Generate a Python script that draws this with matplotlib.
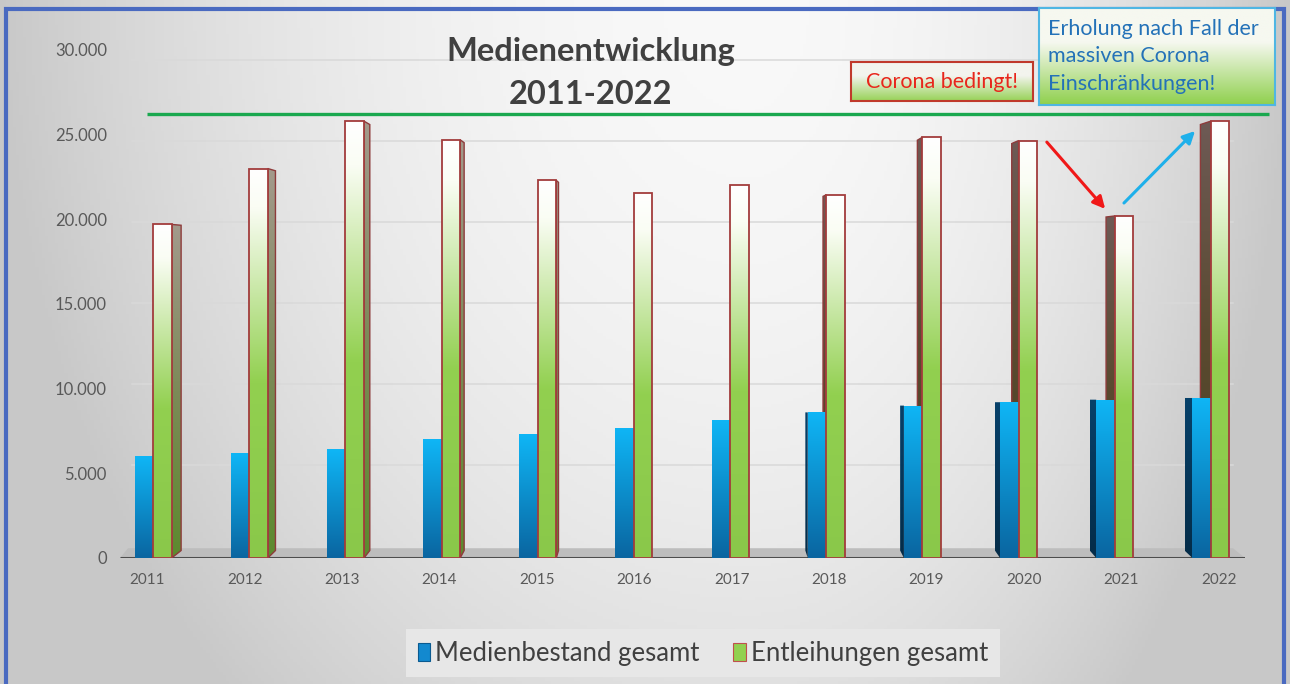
import numpy as np
import matplotlib
matplotlib.use("Agg")
import matplotlib.pyplot as plt
from matplotlib.patches import Polygon, Patch, FancyArrowPatch
from matplotlib.colors import to_rgb
from matplotlib.ticker import FuncFormatter

plt.rcParams['font.family'] = ['Lato', 'DejaVu Sans']

# ---------------- data ----------------
years = ['2011', '2012', '2013', '2014', '2015', '2016',
         '2017', '2018', '2019', '2020', '2021', '2022']
medienbestand = [6000, 6200, 6430, 7000, 7300, 7700, 8150, 8600, 9000, 9200, 9350, 9450]
entleihungen = [19700, 23000, 25800, 24700, 22300, 21550, 22000, 21450, 24850, 24650, 20200, 25800]
reference_line = 26200
y_ticks = [0, 5000, 10000, 15000, 20000, 25000, 30000]
series_names = ['Medienbestand gesamt', 'Entleihungen gesamt']
title_lines = ['Medienentwicklung', '2011-2022']
note_corona = 'Corona bedingt!'
note_recovery = 'Erholung nach Fall der\nmassiven Corona\nEinschränkungen!'

# ---------------- figure ----------------
W, H = 1290, 684
fig = plt.figure(figsize=(W / 100, H / 100), dpi=100)

# background gradient
bg = fig.add_axes([0, 0, 1, 1], zorder=-10)
xx, yy = np.meshgrid(np.linspace(0, 1, 400), np.linspace(0, 1, 220))
dx = np.where(xx < 0.58, (xx - 0.58) / 0.58, (xx - 0.58) / 0.42)
r = np.minimum(1.0, dx ** 2 + 0.5 * yy ** 2)
v = 0.975 - 0.19 * r
bg.imshow(np.dstack([v, v, v]), aspect='auto', extent=(0, 1, 0, 1), origin='upper')
bg.set_axis_off()

def fx(px):
    return px / W

def fy(py):
    return 1 - py / H

# border
fig.add_artist(plt.Rectangle((fx(6), fy(H + 5)), fx(1278), (H - 4) / H,
                             transform=fig.transFigure, fill=False,
                             edgecolor='#4a6ac0', lw=3, zorder=5))

# main axes
ax = fig.add_axes([120 / W, 126 / H, 1125 / W, 508 / H])
ax.patch.set_alpha(0)
xl, xr = -0.28, 11.27
ax.set_xlim(xl, xr)
ax.set_ylim(0, 30000)
for s in ax.spines.values():
    s.set_visible(False)

px_x = 1125 / (xr - xl)      # pixels per x unit

# back wall gridlines and floor
vp_wall, s_wall = 16400, 0.956
for t in y_ticks[1:]:
    gy = vp_wall + (t - vp_wall) * s_wall
    ax.plot([xl + 0.12, xr - 0.12], [gy, gy], color='#d9d9d9', lw=1.1, zorder=1)
floor_back = vp_wall * (1 - s_wall) * 0.8
ax.add_patch(Polygon([(xl, 0), (xr, 0), (xr - 12 / px_x, floor_back), (xl + 8 / px_x, floor_back)],
                     closed=True, facecolor='#bdbdbd', edgecolor='none', zorder=2))
ax.plot([xl, xr], [0, 0], color='#4d4d4d', lw=2.2, zorder=3, solid_capstyle='butt')

def vgrad(stops, n=256):
    pos = np.array([p for p, _ in stops])
    cols = np.array([to_rgb(c) for _, c in stops])
    t = np.linspace(0, 1, n)
    out = np.stack([np.interp(t, pos, cols[:, k]) for k in range(3)], axis=-1)
    return out[:, None, :]

green_front = vgrad([(0, '#ffffff'), (0.1, '#fafdf4'), (0.55, '#92d050'), (1, '#8ac84a')])
green_side_r = vgrad([(0, '#a39a8c'), (0.5, '#7c8a58'), (1, '#5c8a2e')])
green_side_l = vgrad([(0, '#6e5a55'), (0.5, '#5a4a30'), (1, '#4a4020')])
blue_front = vgrad([(0, '#0fb6f6'), (1, '#0a65a0')])
blue_side = vgrad([(0, '#07416a'), (1, '#042c48')])

bw = 18.5 / px_x
vp_bar, s_bar = 17700, 0.975

def draw_grad_poly(verts, img, z, edge=None, lw=0):
    poly = Polygon(verts, closed=True, facecolor='none',
                   edgecolor=edge if edge else 'none', lw=lw, zorder=z + 0.5)
    xs = [p[0] for p in verts]
    ys = [p[1] for p in verts]
    im = ax.imshow(img, aspect='auto', extent=(min(xs), max(xs), min(ys), max(ys)),
                   origin='upper', zorder=z, interpolation='bilinear')
    clip = Polygon(verts, closed=True, transform=ax.transData)
    im.set_clip_path(clip)
    ax.add_patch(poly)

def back(val):
    return vp_bar + (val - vp_bar) * s_bar

n = len(years)
for i in range(n):
    shift = 0.06 - 0.14 * i / (n - 1)
    d = (9.5 - 20 * i / (n - 1)) / px_x         # depth offset of side faces
    b0 = i + shift - bw
    g0 = i + shift
    g1 = g0 + bw
    bv, gv = medienbestand[i], entleihungen[i]
    # green side
    if abs(d) * px_x > 1.5:
        ex = g1 if d > 0 else g0
        verts = [(ex, 0), (ex + d, back(0)), (ex + d, back(gv)), (ex, gv)]
        draw_grad_poly(verts, green_side_r if d > 0 else green_side_l, 4,
                       edge='#8e3b3b', lw=1.0)
    # blue side
    db = 0.75 * d
    if d < 0 and abs(db) * px_x > 1.5:
        verts = [(b0, 0), (b0 + db, back(0)), (b0 + db, bv), (b0, bv)]
        draw_grad_poly(verts, blue_side, 6)
    # blue front
    draw_grad_poly([(b0, 0), (g0, 0), (g0, bv), (b0, bv)], blue_front, 8)
    # green front
    draw_grad_poly([(g0, 0), (g1, 0), (g1, gv), (g0, gv)], green_front, 10,
                   edge='#a23c3c', lw=1.3)

# reference line
ax.plot([0, 11.52], [reference_line, reference_line], color='#1aa84f', lw=2.4,
        zorder=12, clip_on=False, solid_capstyle='butt')

ax.set_xlim(xl, xr)
ax.set_ylim(0, 30000)
ax.set_xticks(range(n))
ax.set_xticklabels(years)
ax.set_yticks(y_ticks)
ax.yaxis.set_major_formatter(FuncFormatter(lambda v, p: f'{int(v):,}'.replace(',', '.')))
ax.tick_params(axis='both', length=0, labelcolor='#595959')
ax.tick_params(axis='y', pad=9.5, labelsize=12)
ax.tick_params(axis='x', pad=11, labelsize=11)

# title
fig.text(fx(591), fy(52), title_lines[0], ha='center', va='center',
         fontsize=23.5, fontweight='bold', color='#404040')
fig.text(fx(590), fy(95), title_lines[1], ha='center', va='center',
         fontsize=23.5, fontweight='bold', color='#404040')

# note boxes
def note_box(x0, y0, x1, y1, top, bottom, edge, lw):
    bax = fig.add_axes([fx(x0), fy(y1), (x1 - x0) / W, (y1 - y0) / H], zorder=20)
    bax.imshow(vgrad([(0, top), (0.35, top), (1, bottom)]), aspect='auto',
               extent=(0, 1, 0, 1), origin='upper')
    bax.set_xticks([])
    bax.set_yticks([])
    for s in bax.spines.values():
        s.set_color(edge)
        s.set_linewidth(lw)
    return bax

b1 = note_box(851, 62, 1033, 101, '#f3f4ee', '#97d257', '#c0392b', 1.5)
b1.text(0.5, 0.5, note_corona, ha='center', va='center', fontsize=15.5,
        color='#e8261c', transform=b1.transAxes)
b2 = note_box(1039, 8, 1275, 105, '#f6f8f0', '#8fd04d', '#4fb6e3', 1.5)
b2.text(0.04, 0.5, note_recovery, ha='left', va='center', fontsize=15.5,
        color='#2472b8', linespacing=1.45, transform=b2.transAxes)

# arrows
fig.add_artist(FancyArrowPatch((fx(1045), fy(140)), (fx(1107), fy(211)),
                               transform=fig.transFigure, arrowstyle='-|>',
                               mutation_scale=18, color='#f01818', lw=2.2, zorder=30))
fig.add_artist(FancyArrowPatch((fx(1122), fy(205)), (fx(1197), fy(129)),
                               transform=fig.transFigure, arrowstyle='-|>',
                               mutation_scale=18, color='#1fb0ea', lw=2.2, zorder=30))

# legend
handles = [Patch(facecolor='#1389cf', edgecolor='#0a5a90', lw=0.8),
           Patch(facecolor='#92d050', edgecolor='#c0504d', lw=0.8)]
leg = fig.legend(handles, series_names, loc='center', bbox_to_anchor=(fx(703), fy(653)),
                 ncol=2, fontsize=18.5, frameon=True, fancybox=False,
                 handlelength=0.5, handleheight=0.7, handletextpad=0.2,
                 columnspacing=1.3, borderpad=0.45)
leg.get_frame().set_facecolor('#e7e7e7')
leg.get_frame().set_edgecolor('none')
leg.get_frame().set_alpha(1)
for t in leg.get_texts():
    t.set_color('#404040')

fig.savefig('out.png', dpi=100)
